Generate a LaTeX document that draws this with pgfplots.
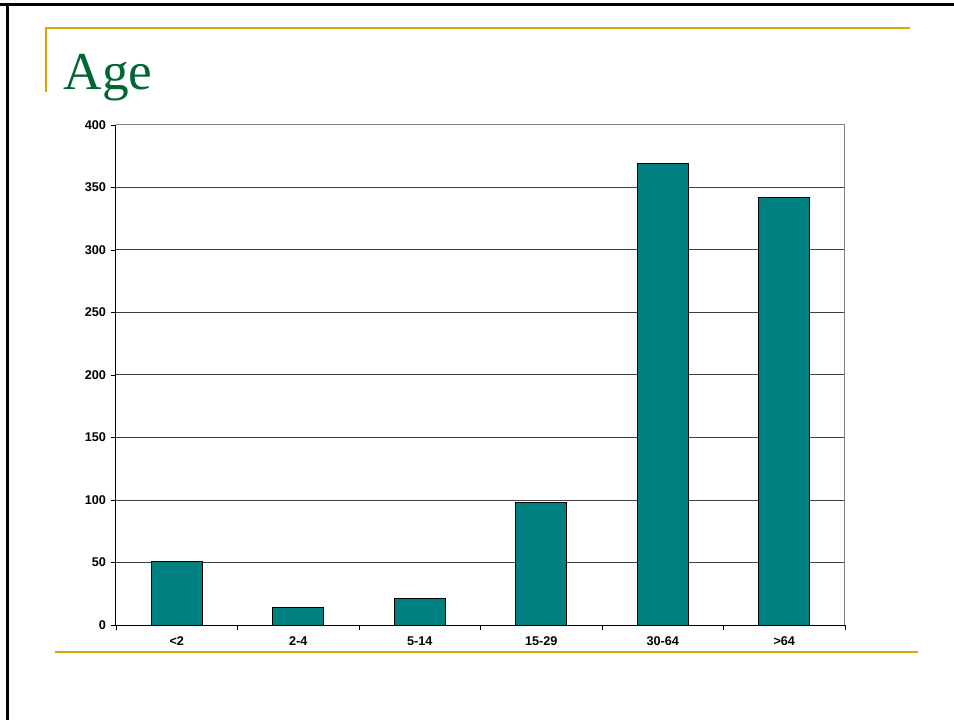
\documentclass[border=0pt]{standalone}
\usepackage{pgfplots}
\pgfplotsset{compat=1.18}
\usepackage{fontspec}
\setmainfont{Liberation Sans}
\newfontfamily\titlefont{Liberation Serif}
\definecolor{gold}{RGB}{218,165,0}
\definecolor{titlegreen}{RGB}{0,102,51}
\definecolor{teal2}{RGB}{0,128,128}
\begin{document}
\begin{tikzpicture}
\path[use as bounding box] (0,0) rectangle (715.5pt,-540pt);
\fill[white] (0,0) rectangle (715.5pt,-540pt);
% slide frame
\draw[black,line width=2.25pt] (0,-3.75pt) -- (715.5pt,-3.75pt);
\draw[black,line width=2.25pt] (5.25pt,-3.75pt) -- (5.25pt,-540pt);
% gold lines
\draw[gold,line width=1.5pt] (33.75pt,-21pt) -- (682.5pt,-21pt);
\draw[gold,line width=1.5pt] (34.5pt,-21pt) -- (34.5pt,-69pt);
\draw[gold,line width=1.5pt] (41.25pt,-489pt) -- (688.5pt,-489pt);
% title
\node[anchor=base west,inner sep=0pt,text=titlegreen,font=\titlefont\fontsize{40}{44}\selectfont] at (47.5pt,-67pt) {Age};
\begin{axis}[
  at={(87pt,-468.75pt)}, anchor=south west,
  scale only axis, width=546.75pt, height=375pt,
  ymin=0, ymax=400, ytick={0,50,...,400},
  xmin=-0.5, xmax=5.5,
  xtick={0,1,2,3,4,5},
  xticklabels={<2,2-4,5-14,15-29,30-64,>64},
  minor xtick={-0.5,0.5,1.5,2.5,3.5,4.5,5.5},
  major x tick style={draw=none},
  tick align=outside,
  major tick length=4pt, minor tick length=4pt,
  y tick style={black, line width=0.6pt},
  minor x tick style={black, line width=0.6pt},
  ymajorgrids, grid style={black!75, line width=0.75pt},
  axis line style={draw=none},
  axis x line*=bottom, axis y line*=left,
  tick label style={font=\fontsize{9.5}{11}\selectfont\bfseries},
  /pgf/number format/assume math mode=true,
  xticklabel style={yshift=-1pt},
  clip=false,
]
\draw[black!50, line width=0.75pt] (axis cs:-0.5,400) -- (axis cs:5.5,400) -- (axis cs:5.5,0);
\addplot[ybar, bar width=0.42, fill=teal2, draw=black, line width=0.6pt] coordinates {
(0,51) (1,14) (2,21) (3,98) (4,369) (5,342)};
\draw[black, line width=0.75pt] (axis cs:-0.5,400) -- (axis cs:-0.5,0) -- (axis cs:5.5,0);
\end{axis}
\end{tikzpicture}
\end{document}
